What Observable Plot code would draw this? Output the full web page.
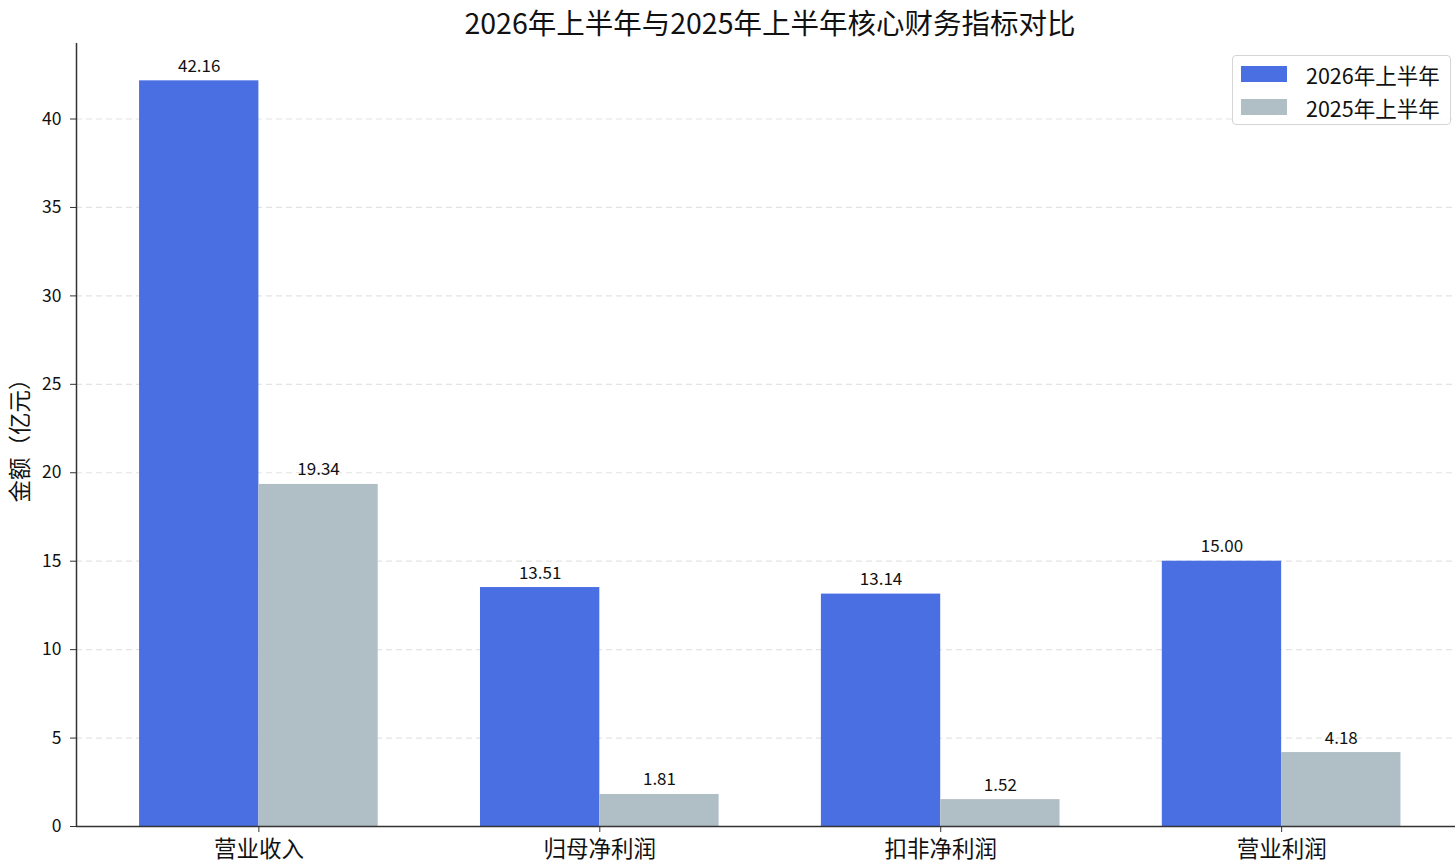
<!DOCTYPE html>
<html>
<head>
<meta charset="utf-8">
<script src="https://cdn.jsdelivr.net/npm/d3@7"></script>
<script src="https://cdn.jsdelivr.net/npm/@observablehq/plot@0.6"></script>
<style>
  html, body { margin: 0; padding: 0; background: white; overflow: hidden; }
  #wrap { position: relative; width: 1455px; height: 867px; font-family: "Noto Sans CJK SC", sans-serif; color: #111; }
  #title { position: absolute; left: 76px; top: 0; width: 1388px; height: 43px; line-height: 43px; text-align: center; font-size: 28.5px; }
  #chart { position: absolute; left: 0; top: 43px; }
  #legend { position: absolute; left: 1232px; top: 55px; width: 217px; height: 68px; border: 1px solid #d5d5d5; border-radius: 4px; background: rgba(255,255,255,0.85); }
  .item { position: absolute; left: 8px; height: 32px; display: flex; align-items: center; font-size: 21.5px; }
  .sw { width: 46px; height: 16px; margin-right: 19px; }
</style>
</head>
<body>
<div id="wrap">
  <div id="title">2026年上半年与2025年上半年核心财务指标对比</div>
  <div id="chart"></div>
  <div id="legend"></div>
</div>
<script>
const categories = ["营业收入", "归母净利润", "扣非净利润", "营业利润"];
const series = ["2026年上半年", "2025年上半年"];
const values2026 = [42.16, 13.51, 13.14, 15.00];
const values2025 = [19.34, 1.81, 1.52, 4.18];
const colors = ["#4A6FE3", "#B0BEC5"];
const yTicks = [0, 5, 10, 15, 20, 25, 30, 35, 40];
const yLabel = "金额（亿元）";
const barWidth = 0.35;
const xDomain = [-0.535, 3.51];

const rows = [];
categories.forEach((c, i) => {
  rows.push({cat: c, i, series: series[0], value: values2026[i], x1: i - barWidth, x2: i});
  rows.push({cat: c, i, series: series[1], value: values2025[i], x1: i, x2: i + barWidth});
});

const chart = Plot.plot({
  width: 1455,
  height: 824,
  marginTop: 0,
  marginBottom: 41,
  marginLeft: 76,
  marginRight: 0,
  style: {fontFamily: "'Noto Sans CJK SC', sans-serif", color: "#111", background: "white", overflow: "visible"},
  x: {domain: xDomain},
  y: {domain: [0, 44.27]},
  color: {domain: series, range: colors},
  marks: [
    Plot.gridY(yTicks.filter(t => t > 0), {stroke: "#e3e3e3", strokeOpacity: 1, strokeWidth: 1.2, strokeDasharray: "6,4"}),
    Plot.rect(rows, {x1: "x1", x2: "x2", y1: 0, y2: "value", fill: "series"}),
    Plot.text(rows, {x: d => (d.x1 + d.x2) / 2, y: "value", text: d => d.value.toFixed(2), dy: -9, lineAnchor: "bottom", fontSize: 17, fill: "#111"}),
    Plot.axisY({ticks: yTicks, tickSize: 6, tickPadding: 9, fontSize: 17.5, label: null, stroke: "#333"}),
    Plot.axisX({ticks: [0, 1, 2, 3], tickFormat: i => categories[i], tickSize: 6, tickPadding: 9, fontSize: 22.5, label: null, stroke: "#333"}),
    Plot.ruleY([0], {stroke: "#333", strokeWidth: 1.5}),
    Plot.ruleX([xDomain[0]], {stroke: "#333", strokeWidth: 1.5}),
    Plot.text([yLabel], {text: d => d, frameAnchor: "left", textAnchor: "middle", rotate: -90, dx: -56, fontSize: 22.5, fill: "#111"})
  ]
});
document.getElementById("chart").appendChild(chart);

const legend = document.getElementById("legend");
series.forEach((s, k) => {
  const item = document.createElement("div");
  item.className = "item";
  item.style.top = (2 + k * 33) + "px";
  const sw = document.createElement("div");
  sw.className = "sw";
  sw.style.background = colors[k];
  const label = document.createElement("span");
  label.textContent = s;
  item.appendChild(sw);
  item.appendChild(label);
  legend.appendChild(item);
});
</script>
</body>
</html>
